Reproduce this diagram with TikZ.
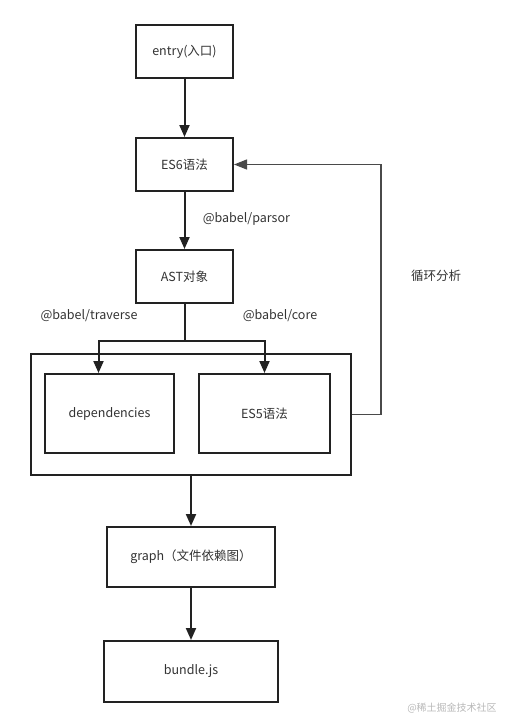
\documentclass[tikz,border=0pt]{standalone}
\usepackage{fontspec}
\setmainfont{Noto Sans CJK SC}
\usepackage{tikz}
\usetikzlibrary{arrows.meta,positioning,calc}
\definecolor{flowink}{HTML}{222222}
\definecolor{flowtext}{HTML}{333333}
\definecolor{flowloop}{HTML}{4A4A4A}
\definecolor{flowmark}{HTML}{B8B8B8}

\begin{document}
\begin{tikzpicture}[x=1pt,y=-1pt,
  blk/.style={draw=flowink,line width=2pt,fill=white,inner sep=0pt,
              minimum width=97pt,minimum height=53pt,align=center,
              font=\fontsize{12.5}{15}\selectfont,text=flowtext},
  arr/.style={-{Triangle[length=12pt,width=10pt]},line width=2pt,flowink},
  loop/.style={-{Triangle[length=13pt,width=10pt]},line width=1.4pt,flowloop},
  lbl/.style={font=\fontsize{12.5}{15}\selectfont,text=flowtext}]
  \useasboundingbox (0,0) rectangle (512,725);
  \node[blk] (entry) at (184.5,51.5) {entry(入口)};
  \node[blk,below=58pt of entry] (es6) {ES6语法};
  \node[blk,below=57pt of es6] (ast) {AST对象};
  \node[blk,minimum width=320pt,minimum height=121pt] (pack) at (191,414.5) {};
  \node[blk,minimum width=129pt,minimum height=79pt] (dep) at (109.5,413.5) {dependencies};
  \node[blk,minimum width=131pt,minimum height=79pt] (es5) at (264.5,413.5) {ES5语法};
  \node[blk,minimum width=168pt,minimum height=60pt] (graph) at (191,557) {graph（文件依赖图）};
  \node[blk,minimum width=174pt,minimum height=61pt,below=52pt of graph] (bundle) {bundle.js};
  % edges
  \draw[arr] (entry) -- (es6);
  \draw[arr] (es6) -- node[lbl,right=14pt,pos=0.47]{@babel/parsor} (ast);
  \draw[line width=2pt,flowink] (ast.south) -- ++(0,37) coordinate (split);
  \draw[arr] (split) -| ([xshift=-11pt]dep.north);
  \draw[arr] (split) -| (es5.north);
  \node[lbl] (trav) at (89,316) {@babel/traverse};
  \node[lbl] (core) at (280,316) {@babel/core};
  \draw[loop] (pack.east) -- ++(29,0) coordinate (turn) |- (es6.east);
  \node[lbl] (cyc) at (436,276) {循环分析};
  \draw[arr] (pack) -- (graph);
  \draw[arr] (graph) -- (bundle);
  \node[font=\fontsize{10}{12}\selectfont,text=flowmark] (mark) at (452,708) {@稀土掘金技术社区};
\end{tikzpicture}
\end{document}
